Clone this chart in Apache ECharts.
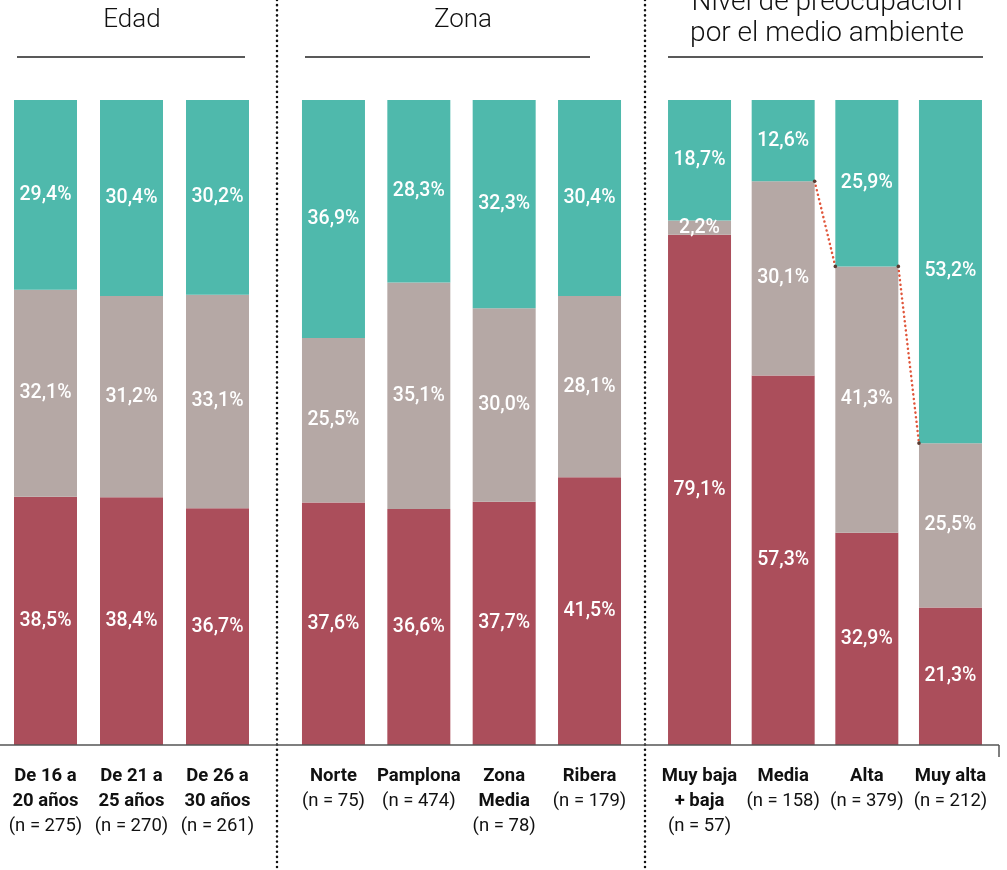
<!DOCTYPE html>
<html><head><meta charset="utf-8">
<script src="https://cdn.jsdelivr.net/npm/echarts@6/dist/echarts.min.js"></script>
<style>html,body{margin:0;padding:0;background:#fff}#c{width:1007px;height:870px}</style>
</head><body><div id="c"></div>
<script>
// ---- Data ----
const edadCats = [['De 16 a', '20 años'], ['De 21 a', '25 años'], ['De 26 a', '30 años']];
const edadN = [275, 270, 261];
const edadRed = [38.5, 38.4, 36.7];
const edadGrey = [32.1, 31.2, 33.1];
const edadTeal = [29.4, 30.4, 30.2];

const zonaCats = [['Norte'], ['Pamplona'], ['Zona', 'Media'], ['Ribera']];
const zonaN = [75, 474, 78, 179];
const zonaRed = [37.6, 36.6, 37.7, 41.5];
const zonaGrey = [25.5, 35.1, 30.0, 28.1];
const zonaTeal = [36.9, 28.3, 32.3, 30.4];

const nivelCats = [['Muy baja', '+ baja'], ['Media'], ['Alta'], ['Muy alta']];
const nivelN = [57, 158, 379, 212];
const nivelRed = [79.1, 57.3, 32.9, 21.3];
const nivelGrey = [2.2, 30.1, 41.3, 25.5];
const nivelTeal = [18.7, 12.6, 25.9, 53.2];

const headers = ['Edad', 'Zona', 'Nivel de preocupación\npor el medio ambiente'];

// ---- Style ----
const RED = '#ab4e5b', GREY = '#b5a8a5', TEAL = '#4fb9ac';
const FONT = 'Roboto, "Noto Sans", sans-serif';
const BAR_W = 63;

const chart = echarts.init(document.getElementById('c'), null, {renderer: 'canvas'});

function catLabel(parts, n) {
  return parts.map(p => '{b|' + p + '}').join('\n') + '\n{n|(n = ' + n + ')}';
}
const groups = [
  {cats: edadCats, n: edadN, red: edadRed, grey: edadGrey, teal: edadTeal, left: 2.5, right: 260.5},
  {cats: zonaCats, n: zonaN, red: zonaRed, grey: zonaGrey, teal: zonaTeal, left: 290.8, right: 632.2},
  {cats: nivelCats, n: nivelN, red: nivelRed, grey: nivelGrey, teal: nivelTeal, left: 657.7, right: 992.3}
];

const grids = [], xAxes = [], yAxes = [], series = [];
const fmt = p => p.value.toFixed(1).replace('.', ',') + '%';
groups.forEach((g, i) => {
  grids.push({left: g.left, width: g.right - g.left, top: 100, bottom: 125, containLabel: false});
  xAxes.push({
    type: 'category', gridIndex: i,
    data: g.cats.map((c, k) => catLabel(c, g.n[k])),
    axisLine: {show: false}, axisTick: {show: false},
    axisLabel: {
      interval: 0, margin: 19, color: '#111', fontFamily: FONT,
      lineHeight: 25,
      rich: {
        b: {fontSize: 18.5, fontWeight: 'bold', color: '#111', fontFamily: FONT, lineHeight: 25},
        n: {fontSize: 18.5, fontWeight: 'normal', color: '#111', fontFamily: FONT, lineHeight: 25}
      }
    }
  });
  yAxes.push({type: 'value', gridIndex: i, min: 0, max: 100, show: false, splitLine: {show: false}});
  [[g.red, RED], [g.grey, GREY], [g.teal, TEAL]].forEach(([vals, col]) => {
    series.push({
      type: 'bar', xAxisIndex: i, yAxisIndex: i, stack: 'g' + i, barWidth: BAR_W,
      data: vals, itemStyle: {color: col}, silent: true,
      label: {show: true, position: 'inside', color: '#fff', fontSize: 19.5, fontWeight: 500, fontFamily: FONT, formatter: fmt}
    });
  });
});

// connector between top of grey segments in the "Nivel" group
const nivelCum = nivelRed.map((r, k) => r + nivelGrey[k]);
const connData = [[1, nivelCum[1], 2, nivelCum[2]], [2, nivelCum[2], 3, nivelCum[3]]];
series.push({
  type: 'custom', xAxisIndex: 2, yAxisIndex: 2, silent: true, z: 10,
  data: connData,
  renderItem: function (params, api) {
    const p1 = api.coord([api.value(0), api.value(1)]);
    const p2 = api.coord([api.value(2), api.value(3)]);
    const x1 = p1[0] + BAR_W / 2, x2 = p2[0] - BAR_W / 2;
    return {
      type: 'group',
      children: [
        {type: 'line', shape: {x1: x1, y1: p1[1], x2: x2, y2: p2[1]},
         style: {stroke: '#e0553a', lineWidth: 2.5, lineDash: [0.1, 4.5], lineCap: 'round'}},
        {type: 'circle', shape: {cx: x1, cy: p1[1], r: 1.8}, style: {fill: '#5a3a30'}},
        {type: 'circle', shape: {cx: x2, cy: p2[1], r: 1.8}, style: {fill: '#5a3a30'}}
      ]
    };
  }
});

const dotted = {stroke: '#111', lineWidth: 2.5, lineDash: [0.1, 5], lineCap: 'round'};
const graphic = [
  {type: 'line', shape: {x1: 277, y1: 0, x2: 277, y2: 870}, style: dotted, z: 1},
  {type: 'line', shape: {x1: 645, y1: 0, x2: 645, y2: 870}, style: dotted, z: 1},
  {type: 'line', shape: {x1: 0, y1: 745, x2: 999, y2: 745}, style: {stroke: '#555', lineWidth: 1.5}, z: 100},
  {type: 'line', shape: {x1: 999, y1: 745, x2: 999, y2: 757}, style: {stroke: '#555', lineWidth: 1.5}, z: 100},
  {type: 'line', shape: {x1: 17, y1: 57, x2: 245, y2: 57}, style: {stroke: '#222', lineWidth: 1.5}},
  {type: 'line', shape: {x1: 305, y1: 57, x2: 590, y2: 57}, style: {stroke: '#222', lineWidth: 1.5}},
  {type: 'line', shape: {x1: 668, y1: 57, x2: 983, y2: 57}, style: {stroke: '#222', lineWidth: 1.5}},
  {type: 'text', x: 132, y: 20, style: {text: headers[0], font: '300 26px ' + FONT, fill: '#111', textAlign: 'center', textVerticalAlign: 'middle'}},
  {type: 'text', x: 463, y: 20, style: {text: headers[1], font: '300 26px ' + FONT, fill: '#111', textAlign: 'center', textVerticalAlign: 'middle'}},
  {type: 'text', x: 827, y: 18, style: {text: headers[2], font: '300 28px ' + FONT, fill: '#111', textAlign: 'center', textVerticalAlign: 'middle', lineHeight: 31}}
];

chart.setOption({
  animation: false,
  backgroundColor: '#fff',
  grid: grids, xAxis: xAxes, yAxis: yAxes, series: series, graphic: graphic
});
</script></body></html>
